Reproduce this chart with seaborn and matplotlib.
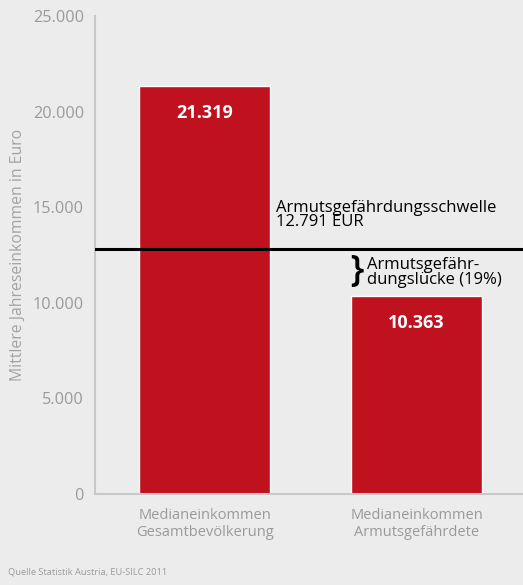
import pandas as pd
import matplotlib
matplotlib.use("Agg")
import matplotlib.pyplot as plt
import seaborn as sns

# data
categories = ["Medianeinkommen\nGesamtbevölkerung", "Medianeinkommen\nArmutsgefährdete"]
values = [21319, 10363]
value_labels = ["21.319", "10.363"]
threshold = 12791
y_ticks = [0, 5000, 10000, 15000, 20000, 25000]
y_ticklabels = ["0", "5.000", "10.000", "15.000", "20.000", "25.000"]

bg = "#ececec"
red = "#c0111f"
grey = "#9a9a9a"

sns.set_theme(style="white")
plt.rcParams['font.family'] = ['Open Sans', 'DejaVu Sans']

df = pd.DataFrame({"kategorie": categories, "wert": values})

fig = plt.figure(figsize=(5.23, 5.85), dpi=100)
fig.patch.set_facecolor(bg)
ax = fig.add_axes([95 / 523, 91 / 585, 428 / 523, 478 / 585])
ax.set_facecolor(bg)

sns.barplot(data=df, x="kategorie", y="wert", color=red, width=0.618,
            saturation=1, ax=ax)

ax.set_xlim(-0.5165, 1.502)
ax.set_ylim(0, 25000)
ax.set_yticks(y_ticks)
ax.set_yticklabels(y_ticklabels, color=grey, fontsize=11.7)
ax.tick_params(axis="y", length=0, pad=8)
ax.tick_params(axis="x", length=0, pad=10, labelsize=10.5, labelcolor=grey)
ax.set_xlabel("")
ax.set_ylabel("Mittlere Jahreseinkommen in Euro", color="#a3a3a3", fontsize=11.3, labelpad=5)

for s in ["top", "right"]:
    ax.spines[s].set_visible(False)
for s in ["left", "bottom"]:
    ax.spines[s].set_color("#c8c8c8")
    ax.spines[s].set_linewidth(1.5)

# value labels inside bars
for i, (v, lab) in enumerate(zip(values, value_labels)):
    ax.text(i, v - 1400, lab, color="white", fontsize=13, fontweight="bold",
            ha="center", va="center")

# threshold line
ax.axhline(threshold, color="black", linewidth=2.2, zorder=5)
ax.text(0.335, threshold + 1000, "Armutsgefährdungsschwelle\n12.791 EUR",
        fontsize=12, color="black", ha="left", va="bottom", linespacing=0.9)

# gap bracket
gap_mid = (threshold + values[1]) / 2
ax.text(0.688, gap_mid + 60, "}", fontsize=26, fontweight="semibold", color="black",
        ha="left", va="center")
ax.text(0.765, gap_mid, "Armutsgefähr-\ndungslücke (19%)", fontsize=12,
        color="black", ha="left", va="center", linespacing=0.9)

fig.text(8 / 523, 1 - 572 / 585, "Quelle Statistik Austria, EU-SILC 2011",
         fontsize=6.7, color=grey, ha="left", va="center")

fig.savefig("out.png", dpi=100, facecolor=bg)
